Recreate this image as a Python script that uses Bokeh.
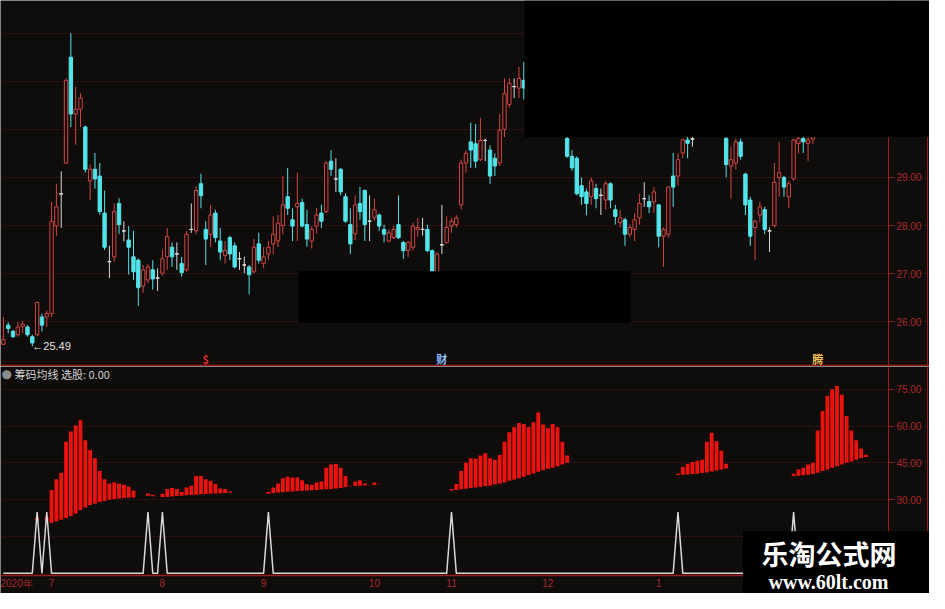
import numpy as np
from bokeh.plotting import figure
from bokeh.layouts import column
from bokeh.models import (ColumnDataSource, Range1d, FixedTicker, PrintfTickFormatter,
                          BoxAnnotation, Label, Span)
from bokeh.core.properties import value
from bokeh.embed import file_html
from bokeh.resources import INLINE

# ---------------- price data (daily candles) ----------------
opens = [25.53, 25.93, 25.80, 25.73, 25.90, 25.89, 25.69, 25.73, 26.10, 26.10,
         26.17, 27.99, 28.66, 29.30, 31.50, 30.32, 30.42, 30.05, 28.93, 29.17,
         29.03, 28.26, 27.25, 27.35, 28.46, 27.89, 27.70, 27.35, 27.28, 26.74,
         26.87, 27.08, 26.91, 27.01, 27.35, 27.55, 27.41, 27.21, 27.08, 27.92,
         27.89, 28.87, 27.92, 27.82, 28.26, 27.68, 27.38, 27.75, 27.58, 27.31,
         27.18, 27.14, 27.04, 27.62, 27.21, 27.41, 27.62, 27.68, 28.00, 28.60,
         28.12, 28.39, 28.48, 28.02, 27.68, 27.99, 28.26, 28.29, 29.34, 28.97,
         29.17, 28.60, 28.02, 27.83, 28.46, 28.73, 28.09, 28.16, 28.22, 27.92,
         27.68, 27.75, 28.02, 27.65, 27.48, 27.55, 27.92, 27.92, 27.92, 27.48,
         27.02, 27.60, 27.65, 27.99, 28.02, 28.43, 29.30, 29.74, 29.70, 29.37,
         29.77, 29.57, 29.40, 29.30, 30.00, 30.52, 30.89, 30.86, 31.02, 30.86,
         31.30, 31.60, 31.50, 31.00, 30.80, 30.50, 30.20, 29.81, 29.44, 29.40,
         28.83, 28.70, 28.60, 28.77, 28.63, 28.53, 28.87, 28.33, 28.06, 28.12,
         27.82, 27.92, 28.16, 28.56, 28.50, 28.49, 28.43, 27.78, 27.82, 29.03,
         29.03, 29.51, 29.78, 29.80, 29.90, 30.30, 30.60, 30.40, 30.20, 30.40,
         29.81, 29.24, 29.30, 29.74, 29.07, 28.53, 27.96, 28.22, 28.33, 27.89,
         28.00, 29.00, 29.00, 28.60, 28.97, 29.71, 29.81, 29.71, 29.80, 29.95,
         30.30, 30.80, 31.40, 31.80, 31.60, 31.30, 31.10, 30.90, 30.80, 30.70,
         30.60]
highs = [26.10, 25.99, 25.83, 25.99, 26.02, 25.93, 25.73, 26.42, 26.17, 26.23,
         28.49, 28.87, 29.13, 31.06, 32.00, 30.89, 30.75, 30.08, 29.27, 29.51,
         29.30, 28.73, 27.58, 28.46, 28.57, 28.09, 27.99, 27.89, 27.31, 27.18,
         27.20, 27.28, 27.11, 27.50, 27.95, 27.65, 27.65, 27.35, 27.89, 28.46,
         28.82, 29.08, 28.09, 28.43, 28.33, 27.95, 27.68, 27.79, 27.65, 27.45,
         27.35, 27.18, 27.72, 27.85, 27.55, 27.68, 28.19, 28.22, 29.03, 29.20,
         28.36, 29.10, 28.56, 28.33, 27.99, 28.36, 28.43, 29.34, 29.57, 29.40,
         29.20, 28.67, 28.36, 28.63, 28.80, 28.75, 28.63, 28.56, 28.25, 28.02,
         27.92, 27.99, 28.63, 27.68, 27.68, 28.06, 28.16, 28.16, 28.02, 27.50,
         27.45, 28.43, 28.19, 28.16, 28.22, 29.37, 29.57, 30.14, 30.11, 30.24,
         29.81, 29.67, 29.50, 30.32, 31.06, 31.06, 31.06, 31.30, 31.40, 31.50,
         31.80, 32.10, 31.70, 31.30, 31.00, 30.70, 30.40, 29.84, 29.57, 29.44,
         29.00, 28.77, 29.00, 28.87, 28.77, 28.93, 28.90, 28.43, 28.33, 28.16,
         28.02, 28.26, 28.66, 28.90, 28.63, 28.80, 28.45, 27.96, 28.82, 29.51,
         29.51, 29.81, 29.90, 30.10, 30.40, 30.80, 30.90, 30.70, 30.60, 30.50,
         30.00, 29.64, 29.81, 29.81, 29.10, 28.60, 28.12, 28.50, 28.39, 27.96,
         29.30, 29.74, 29.03, 28.93, 29.81, 29.95, 29.90, 29.95, 30.10, 30.40,
         30.90, 31.50, 32.00, 32.30, 31.90, 31.60, 31.40, 31.20, 31.10, 31.00,
         30.90]
lows = [25.52, 25.76, 25.66, 25.69, 25.76, 25.69, 25.49, 25.70, 25.80, 25.89,
        26.10, 27.79, 27.95, 29.28, 30.05, 29.68, 30.05, 29.10, 28.53, 28.77,
        28.23, 27.49, 26.91, 27.25, 27.82, 27.67, 26.98, 26.87, 26.33, 26.60,
        26.80, 26.67, 26.64, 26.96, 27.08, 27.14, 27.08, 26.94, 27.04, 27.85,
        27.82, 28.36, 27.18, 27.55, 27.65, 27.28, 27.21, 27.28, 27.11, 27.08,
        27.01, 26.57, 27.01, 27.21, 27.11, 27.28, 27.41, 27.55, 27.82, 28.22,
        27.68, 27.68, 27.96, 27.56, 27.52, 27.83, 27.95, 28.26, 29.03, 28.70,
        28.63, 28.06, 27.41, 27.70, 28.12, 27.68, 27.68, 28.09, 27.89, 27.65,
        27.65, 27.72, 27.72, 27.31, 27.35, 27.48, 27.76, 27.79, 27.45, 26.95,
        26.98, 27.41, 27.62, 27.85, 27.96, 28.33, 29.10, 29.20, 29.20, 29.34,
        29.34, 28.87, 29.03, 29.24, 29.84, 30.45, 30.65, 30.65, 30.62, 30.70,
        31.10, 31.30, 30.90, 30.60, 30.30, 30.10, 29.95, 29.41, 29.14, 28.63,
        28.43, 28.22, 28.43, 28.36, 28.22, 28.33, 28.36, 28.02, 27.96, 27.58,
        27.75, 27.68, 28.02, 28.39, 28.26, 28.26, 27.55, 27.14, 27.75, 28.39,
        28.83, 29.40, 29.40, 29.64, 29.88, 30.10, 30.20, 30.00, 29.95, 29.95,
        29.00, 28.56, 29.17, 29.37, 28.22, 27.58, 27.28, 28.06, 27.82, 27.45,
        27.96, 28.60, 28.60, 28.36, 28.93, 29.50, 29.51, 29.34, 29.70, 29.90,
        30.20, 30.70, 31.20, 31.40, 31.10, 30.90, 30.70, 30.50, 30.40, 30.30,
        30.20]
closes = [25.63, 25.86, 25.69, 25.89, 25.95, 25.73, 25.56, 26.40, 25.93, 26.17,
          28.09, 28.39, 28.66, 31.02, 30.32, 30.42, 30.65, 29.17, 29.17, 28.97,
          28.29, 27.55, 27.25, 28.29, 28.02, 27.89, 27.55, 27.04, 26.71, 27.08,
          27.14, 26.89, 26.91, 27.31, 27.77, 27.35, 27.41, 27.02, 27.82, 27.92,
          28.73, 28.62, 27.72, 28.22, 27.75, 27.45, 27.48, 27.41, 27.14, 27.31,
          27.18, 26.98, 27.55, 27.28, 27.35, 27.55, 27.82, 28.05, 28.43, 28.36,
          27.99, 28.46, 27.99, 27.72, 27.92, 28.22, 28.09, 29.30, 29.17, 28.97,
          28.70, 28.09, 27.62, 28.43, 28.29, 28.02, 28.09, 28.33, 27.99, 27.82,
          27.85, 27.92, 27.75, 27.48, 27.65, 27.99, 27.96, 27.92, 27.48, 27.00,
          27.41, 27.60, 27.96, 28.09, 28.16, 29.30, 29.50, 29.57, 29.34, 29.77,
          29.77, 29.03, 29.24, 29.98, 30.75, 30.96, 30.89, 31.06, 30.86, 31.30,
          31.60, 31.50, 31.00, 30.80, 30.50, 30.20, 30.05, 29.44, 29.20, 28.66,
          28.60, 28.46, 28.93, 28.56, 28.63, 28.87, 28.53, 28.19, 28.16, 27.82,
          27.96, 28.12, 28.46, 28.56, 28.39, 28.70, 27.78, 27.92, 28.80, 28.80,
          29.37, 29.78, 29.71, 29.80, 30.30, 30.60, 30.40, 30.20, 30.40, 30.10,
          29.27, 29.37, 29.74, 29.44, 28.43, 27.78, 28.09, 28.39, 27.92, 27.89,
          28.90, 29.10, 28.80, 28.87, 29.78, 29.81, 29.74, 29.78, 29.95, 30.30,
          30.80, 31.40, 31.80, 31.60, 31.30, 31.10, 30.90, 30.80, 30.70, 30.60,
          30.50]

price_ticks = [26, 27, 28, 29]
price_grid = [26, 27, 28, 29, 30, 31, 32]

# ---------------- chip-average indicator ----------------
signal_idx = [7, 9, 30, 33, 55, 93, 140, 164]
signal_height = 25

seg_starts = [7, 30, 55, 93, 140, 164]
tops_a = [22.6, None, 22.8, 34.0, 38.3, 41.0, 53.6, 57.8, 60.2, 62.4, 54.2, 50.2,
          46.9, 41.7, 38.3, 36.6, 37.0, 36.6, 36.1, 35.4, 33.7]
base_a = [21.6, None, 21.4, 20.5, 21.2, 21.8, 22.5, 23.4, 24.4, 25.8, 26.8, 27.8,
          28.4, 29.1, 29.5, 30.0, 30.3, 30.5, 30.7, 30.8, 30.9]
tops_b = [32.5, 32.0, None, 32.4, 34.4, 34.8, 34.4, 33.1, 35.0, 35.7, 39.7, 39.7,
          38.3, 37.7, 36.4, 34.6, 34.4, 33.3]
base_b = [31.6, 31.4, None, 31.1, 31.1, 31.3, 31.5, 31.6, 31.8, 31.9, 32.0, 32.2,
          32.3, 32.4, 32.5, 32.6, 32.7, 32.8]
tops_c = [33.1, 35.0, 36.6, 38.7, 39.3, 39.0, 39.0, 37.9, 36.3, 36.1, 37.0, 37.4,
          43.0, 44.3, 44.5, 43.0, 39.7, 35.7, 37.4, 37.9, 36.6, 35.9, 37.0, 36.1]
base_c = [32.4, 32.7, 32.9, 33.0, 33.2, 33.3, 33.5, 33.6, 33.7, 33.9, 34.0, 34.2,
          34.3, 34.4, 34.6, 34.8, 35.2, 35.5, 35.6, 35.7, 35.8, 35.8, 36.0, 36.0]
tops_d = [34.4, 36.4, 41.7, 45.0, 46.9, 46.7, 48.0, 48.9, 46.9, 46.3, 48.2, 53.6,
          57.5, 59.5, 61.2, 60.8, 59.5, 61.5, 65.5, 60.6, 59.1, 60.8, 59.5, 53.6, 48.0]
base_d = [33.7, 34.0, 34.3, 34.5, 34.8, 35.0, 35.3, 35.6, 35.8, 36.2, 36.6, 37.0,
          37.7, 38.2, 38.7, 39.3, 40.1, 40.7, 41.4, 42.0, 42.6, 43.0, 43.6, 44.3, 45.0]
tops_e = [40.6, 43.3, 44.6, 45.4, 45.9, 46.3, 53.6, 57.3, 53.8, 49.9, 44.6]
base_e = [40.1, 40.2, 40.3, 40.5, 40.6, 40.9, 41.1, 41.5, 41.9, 42.3, 42.7]
tops_f = [40.6, 42.3, 43.0, 44.3, 45.0, 58.2, 66.1, 72.3, 75.0, 76.3, 72.7, 64.1,
          58.2, 54.2, 50.9, 48.3]
base_f = [39.7, 39.8, 40.0, 40.2, 40.5, 41.0, 41.7, 42.3, 43.0, 43.6, 44.3, 45.0,
          45.6, 46.3, 47.0, 47.4]

ind_ticks = [30, 45, 60, 75]
ind_grid = [15, 30, 45, 60, 75]

month_ticks = [0, 10, 33, 54, 77, 93, 113, 136]
month_labels = ["2020年", "7", "8", "9", "10", "11", "12", "1"]

event_idx = [42, 91, 169]
event_text = ["$", "财", "腾"]
event_color = ["#e02a2a", "#8dbcff", "#f2c05a"]

# ---------------- styling / geometry ----------------
BG = "#0f0c0c"
MASK = "#000000"
AX_RED = "#a01c1c"
LBL_RED = "#a82a2a"
GRID_C = "#4a1414"
UP_C = "#d2463f"
DN_C = "#52e4e8"
FLAT_C = "#d8d8d8"
BAR_C = "#ea130d"
CJK = "Noto Sans CJK SC"

X_LO, X_HI = -0.6, 192.2      # full canvas width in bar units
AXIS_X = 183.67               # position of the right price/indicator scale
EDGE_X = 191.8                # outer right border line

n = len(opens)
xs = np.arange(n)
o = np.array(opens); h = np.array(highs); lo = np.array(lows); c = np.array(closes)
col, fill = [], []
for oo, cc in zip(o, c):
    if cc > oo:
        col.append(UP_C); fill.append(BG)
    elif cc < oo:
        col.append(DN_C); fill.append(DN_C)
    else:
        col.append(FLAT_C); fill.append(FLAT_C)

src = ColumnDataSource(dict(x=xs, h=h, l=lo, top=np.maximum(o, c), bot=np.minimum(o, c),
                            col=col, fill=fill))
flat = [i for i in range(n) if o[i] == c[i]]
flat_src = ColumnDataSource(dict(x0=[i - 0.35 for i in flat], x1=[i + 0.35 for i in flat],
                                 y=[c[i] for i in flat]))

xr = Range1d(X_LO, X_HI)


def style_scale(axis, ticks, bounds):
    axis.ticker = FixedTicker(ticks=ticks)
    axis.formatter = PrintfTickFormatter(format="%.2f")
    axis.major_label_text_color = LBL_RED
    axis.major_label_text_font = "Liberation Sans"
    axis.major_label_text_font_size = "10px"
    axis.major_tick_line_color = AX_RED
    axis.major_tick_out = 5
    axis.major_tick_in = 0
    axis.minor_tick_line_color = None
    axis.axis_line_color = AX_RED
    axis.major_label_standoff = 3
    axis.fixed_location = AXIS_X
    axis.bounds = bounds


# ================= price panel =================
P_LO, P_HI = 25.07, 32.68
p1 = figure(width=929, height=366, x_range=xr, y_range=Range1d(P_LO, P_HI),
            output_backend="svg", toolbar_location=None, y_axis_location="right",
            x_axis_location=None,
            min_border_left=0, min_border_right=0, min_border_top=0, min_border_bottom=0,
            background_fill_color=BG, border_fill_color=BG, outline_line_color=None)
p1.xgrid.visible = False
p1.ygrid.ticker = FixedTicker(ticks=price_grid)
p1.ygrid.grid_line_color = GRID_C
p1.ygrid.grid_line_dash = "2 2"
p1.ygrid.bounds = (X_LO, AXIS_X)
style_scale(p1.yaxis[0], price_ticks, (P_LO, P_HI))

p1.segment(x0="x", y0="l", x1="x", y1="h", line_color="col", line_width=1, source=src)
p1.vbar(x="x", top="top", bottom="bot", width=0.7, fill_color="fill", line_color="col",
        line_width=1, source=src)
p1.segment(x0="x0", y0="y", x1="x1", y1="y", line_color=FLAT_C, line_width=1, source=flat_src)

imin = int(np.argmin(lo))
p1.text(x=[imin], y=[lo[imin]], text=[f"←{lo[imin]:.2f}"], text_align="left",
        text_baseline="middle", text_color="#e4e4e4", text_font_size="11px",
        text_font=value("Liberation Sans"))

marker_y = P_LO + 0.16
p1.text(x=event_idx, y=[marker_y] * len(event_idx), text=event_text, text_color=event_color,
        text_align="center", text_baseline="middle", text_font_size="11px",
        text_font=value(CJK), text_font_style="bold")

p1.add_layout(Span(location=P_LO + 0.02, dimension="width", line_color=AX_RED, line_width=1.5))
p1.add_layout(Span(location=EDGE_X, dimension="height", line_color=AX_RED, line_width=1))
p1.add_layout(BoxAnnotation(left=108.2, bottom=29.84, fill_color=MASK, fill_alpha=1,
                            line_color=None))
p1.add_layout(BoxAnnotation(left=61.2, right=130.2, bottom=25.98, top=27.05,
                            fill_color=MASK, fill_alpha=1, line_color=None))

# ================= indicator panel =================
I_LO, I_HI = -8.2, 84.25
p2 = figure(width=929, height=227, x_range=xr, y_range=Range1d(I_LO, I_HI),
            output_backend="svg", toolbar_location=None, y_axis_location="right",
            x_axis_location="below",
            min_border_left=0, min_border_right=0, min_border_top=0, min_border_bottom=0,
            background_fill_color=BG, border_fill_color=BG, outline_line_color=None)
p2.xgrid.visible = False
p2.ygrid.ticker = FixedTicker(ticks=ind_grid)
p2.ygrid.grid_line_color = GRID_C
p2.ygrid.grid_line_dash = "2 2"
p2.ygrid.bounds = (X_LO, AXIS_X)
style_scale(p2.yaxis[0], ind_ticks, (-0.67, I_HI))

bx = p2.xaxis[0]
bx.ticker = FixedTicker(ticks=month_ticks)
bx.major_label_overrides = {t: s for t, s in zip(month_ticks, month_labels)}
bx.major_label_text_align = "left"
bx.major_label_text_color = LBL_RED
bx.major_label_text_font = "Liberation Sans"
bx.major_label_text_font_size = "10px"
bx.major_tick_line_color = None
bx.major_tick_out = 0
bx.major_tick_in = 0
bx.minor_tick_line_color = None
bx.minor_tick_out = 0
bx.major_label_standoff = 3
bx.axis_line_color = AX_RED
bx.axis_line_width = 1.5
bx.fixed_location = -0.67
bx.bounds = (X_LO, EDGE_X)

bar_x, bar_top, bar_bot = [], [], []
for start, tops, bases in zip(seg_starts, [tops_a, tops_b, tops_c, tops_d, tops_e, tops_f],
                              [base_a, base_b, base_c, base_d, base_e, base_f]):
    for k, (t, b) in enumerate(zip(tops, bases)):
        if t is None:
            continue
        bar_x.append(start + k); bar_top.append(t); bar_bot.append(b)
p2.vbar(x=bar_x, top=bar_top, bottom=bar_bot, width=0.8, fill_color=BAR_C, line_color=None)

sig = [signal_height if i in signal_idx else 0 for i in range(n)]
p2.line(x=list(xs), y=sig, line_color="#d8d8d8", line_width=1.5)

p2.add_layout(Span(location=EDGE_X, dimension="height", line_color=AX_RED, line_width=1))

p2.add_layout(Label(x=1, y=220, x_units="screen", y_units="screen", text="●",
                    text_color="#8c8c8c", text_font="DejaVu Sans", text_font_size="12px",
                    text_baseline="middle"))
p2.add_layout(Label(x=14, y=220, x_units="screen", y_units="screen", text="筹码均线 选股: 0.00",
                    text_color="#d2d2d2", text_font=CJK, text_font_size="11px",
                    text_baseline="middle"))

# watermark (covers the lower right corner)
p2.add_layout(BoxAnnotation(left=153.5, top=17.2, fill_color=MASK, fill_alpha=1,
                            line_color=None))
p2.add_layout(Label(x=761, y=40, x_units="screen", y_units="screen", text="乐淘公式网",
                    text_color="#ffffff", text_font=CJK, text_font_size="27px",
                    text_font_style="bold", text_baseline="middle"))
p2.add_layout(Label(x=768, y=12, x_units="screen", y_units="screen", text="www.60lt.com",
                    text_color="#ffffff", text_font="Liberation Serif", text_font_size="20px",
                    text_font_style="bold", text_baseline="middle"))

layout = column(p1, p2, spacing=0)
open("out.html", "w").write(file_html(layout, INLINE))
